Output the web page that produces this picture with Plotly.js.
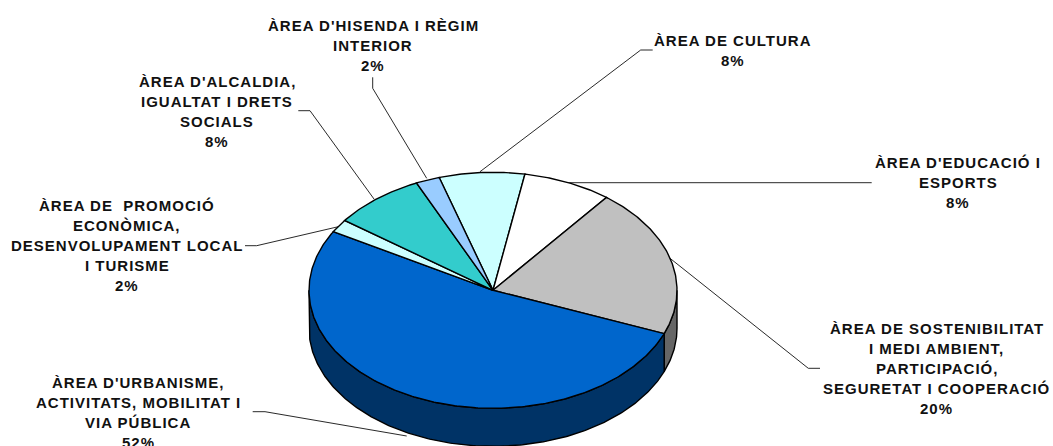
<!DOCTYPE html>
<html><head><meta charset="utf-8">
<script src="https://cdn.plot.ly/plotly-3.0.1.min.js"></script>
<style>html,body{margin:0;padding:0;background:#fff;overflow:hidden}#c{width:1053px;height:446px}
.annotation-text{letter-spacing:1px}</style>
</head><body><div id="c"></div>
<script>
// Data, clockwise from the start angle
const categories = [
  ["ÀREA DE CULTURA"],
  ["ÀREA D'EDUCACIÓ I", "ESPORTS"],
  ["ÀREA DE SOSTENIBILITAT", "I MEDI AMBIENT,", "PARTICIPACIÓ,", "SEGURETAT I COOPERACIÓ"],
  ["ÀREA D'URBANISME,", "ACTIVITATS, MOBILITAT I", "VIA PÚBLICA"],
  ["ÀREA DE\u00a0 PROMOCIÓ", "ECONÒMICA,", "DESENVOLUPAMENT LOCAL", "I TURISME"],
  ["ÀREA D'ALCALDIA,", "IGUALTAT I DRETS", "SOCIALS"],
  ["ÀREA D'HISENDA I RÈGIM", "INTERIOR"]
];
const values = [7.5, 7.8, 20.4, 52.3, 1.8, 8.1, 2.1];
const percentLabels = ["8%", "8%", "20%", "52%", "2%", "8%", "2%"];

// Style
const topColors = ["#CCFFFF", "#FFFFFF", "#C0C0C0", "#0066CC", "#CCFFFF", "#33CCCC", "#99CCFF"];
const sideColors = ["#666666", "#666666", "#666666", "#003366", "#666666", "#666666", "#666666"];

// Label and leader placement (pixels of the picture)
const labelX = [732.7, 958, 936.7, 138, 127, 217, 373];
const labelY = [40.7, 162.7, 328, 382.5, 205.7, 81, 25];
const lineStep = 20;
const leaders = [
  [[652.7,50],[640.7,50],[480,171.7]],
  [[871.7,182.7],[566.7,182.7]],
  [[820,368.3],[808.3,368.3],[670,258.3]],
  [[252.7,411.7],[265,411.7],[406.7,436]],
  [[245,245.7],[256.7,245.7],[338.3,226.7]],
  [[298.3,110.7],[310,110.7],[374,199]],
  [[372.7,77.3],[372.7,88.3],[426.7,178.3]]
];

// Pie geometry
const cx = 493, cy = 290.3, rx = 184, ry = 118, depth = 38, startDeg = 107;
const total = values.reduce((a, b) => a + b, 0);
const rad = d => d * Math.PI / 180;
const pt = (deg, dy) => [cx + rx * Math.cos(rad(deg)), cy - ry * Math.sin(rad(deg)) + (dy || 0)];
function arc(a0, a1, dy) {
  const n = Math.max(2, Math.ceil(Math.abs(a1 - a0) * 1.5)), out = [];
  for (let i = 0; i <= n; i++) out.push(pt(a0 + (a1 - a0) * i / n, dy));
  return out;
}
const traces = [];
const poly = (pts, fill) => traces.push({
  x: pts.map(p => p[0]), y: pts.map(p => p[1]), mode: "lines", fill: "toself", fillcolor: fill,
  line: {color: "#000000", width: 1.4}, hoverinfo: "skip", showlegend: false
});

// leaders under the pie
leaders.forEach(l => traces.push({
  x: l.map(p => p[0]), y: l.map(p => p[1]), mode: "lines",
  line: {color: "#111111", width: 0.9}, hoverinfo: "skip", showlegend: false
}));

// slice spans (angles run clockwise, so decreasing)
let a = startDeg;
const spans = values.map(v => { const s = a, e = a - v / total * 360; a = e; return [s, e]; });

// side walls: only the front half (angles from 0 down to -180) is visible
spans.forEach((s, i) => {
  const a0 = Math.min(s[0], 0), a1 = Math.max(s[1], -180);
  if (a0 > a1) poly(arc(a0, a1, 0).concat(arc(a1, a0, depth)).concat([pt(a0, 0)]), sideColors[i]);
});
// top faces
spans.forEach((s, i) => {
  poly([[cx, cy]].concat(arc(s[0], s[1], 0)).concat([[cx, cy]]), topColors[i]);
});

// labels, one annotation per text line to get the reference's line pitch
const annotations = [];
categories.forEach((lines, i) => {
  lines.concat([percentLabels[i]]).forEach((t, j) => annotations.push({
    x: labelX[i], y: labelY[i] + j * lineStep, xref: "x", yref: "y",
    text: t, showarrow: false, xanchor: "center", yanchor: "middle",
    font: {family: "Liberation Sans, Arial, sans-serif", size: 15, color: "#111111", weight: 700}
  }));
});

Plotly.newPlot("c", traces, {
  width: 1053, height: 446, margin: {l: 0, r: 0, t: 0, b: 0},
  paper_bgcolor: "#fff", plot_bgcolor: "#fff", showlegend: false,
  xaxis: {range: [0, 1053], visible: false, fixedrange: true},
  yaxis: {range: [446, 0], visible: false, fixedrange: true},
  annotations
}, {displayModeBar: false, staticPlot: true});
</script></body></html>
